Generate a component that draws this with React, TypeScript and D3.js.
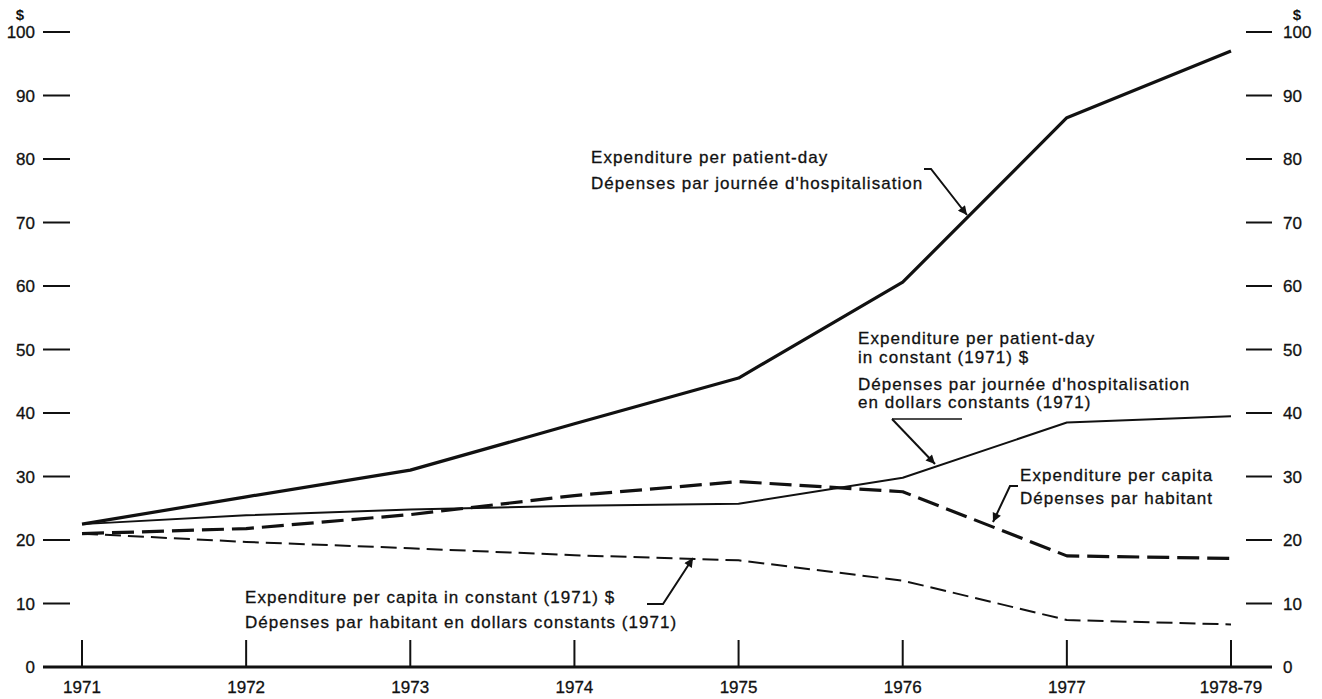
import * as React from "react"
import * as d3 from "d3"

// categories on the x axis
const years = ["1971", "1972", "1973", "1974", "1975", "1976", "1977", "1978-79"]
const yTicks = [0, 10, 20, 30, 40, 50, 60, 70, 80, 90, 100]

// series values ($)
const perPatientDay = [22.5, 26.8, 31.0, 38.3, 45.5, 60.6, 86.5, 97.0]
const perPatientDayConst = [22.5, 23.9, 24.8, 25.4, 25.7, 29.8, 38.5, 39.5]
const perCapita = [21.0, 21.8, 24.0, 27.0, 29.2, 27.6, 17.5, 17.1]
const perCapitaConst = [21.0, 19.7, 18.7, 17.6, 16.8, 13.6, 7.4, 6.7]

const W = 1322
const H = 699
const FONT = "'Liberation Sans', Arial, Helvetica, sans-serif"
const INK = "#111"

type Series = { values: number[]; width: number; dash?: string }

const series: Series[] = [
  { values: perPatientDay, width: 3.2 },
  { values: perPatientDayConst, width: 2 },
  { values: perCapita, width: 3.2, dash: "22,8" },
  { values: perCapitaConst, width: 2, dash: "16,7" },
]

export default function App() {
  const x = d3.scalePoint<string>().domain(years).range([82, 1231])
  const y = d3.scaleLinear().domain([0, 100]).range([667, 32])

  const line = (vals: number[]) =>
    d3
      .line<number>()
      .x((_, i) => x(years[i]) as number)
      .y((d) => y(d))
      .curve(d3.curveLinear)(vals) || ""

  // scanned type looks a bit heavier, so give it a hairline stroke
  const textProps = {
    fontFamily: FONT,
    fontSize: 17,
    fill: INK,
    stroke: INK,
    strokeWidth: 0.3,
    letterSpacing: 1.05,
  }
  const tickText = {
    fontFamily: FONT,
    fontSize: 17,
    fill: INK,
    stroke: INK,
    strokeWidth: 0.3,
  }

  return (
    <svg
      width={W}
      height={H}
      viewBox={`0 0 ${W} ${H}`}
      style={{ position: "absolute", left: 0, top: 0, background: "#fff" }}
    >
      <defs>
        <marker
          id="arrow"
          viewBox="0 0 10 10"
          refX="10"
          refY="5"
          markerWidth="14"
          markerHeight="9"
          markerUnits="userSpaceOnUse"
          orient="auto"
        >
          <path d="M0,0 L10,5 L0,10 Z" fill={INK} />
        </marker>
      </defs>

      {/* y ticks, both sides */}
      {yTicks.map((t) => (
        <g key={t}>
          <line x1={43} x2={70} y1={y(t)} y2={y(t)} stroke={INK} strokeWidth={2} />
          <line x1={1246} x2={1272} y1={y(t)} y2={y(t)} stroke={INK} strokeWidth={2} />
          <text {...tickText} x={35} y={y(t)} dy="0.36em" textAnchor="end">
            {t}
          </text>
          <text {...tickText} x={1283} y={y(t)} dy="0.36em" textAnchor="start">
            {t}
          </text>
        </g>
      ))}
      <text x={20} y={20} textAnchor="middle" fontFamily={FONT} fontSize={15} fontWeight="bold" fill={INK}>$</text>
      <text x={1297} y={20} textAnchor="middle" fontFamily={FONT} fontSize={15} fontWeight="bold" fill={INK}>$</text>

      {/* x axis */}
      <line x1={43} x2={1272} y1={y(0)} y2={y(0)} stroke={INK} strokeWidth={3} />
      {years.map((yr) => (
        <g key={yr}>
          <line x1={x(yr)} x2={x(yr)} y1={640} y2={y(0)} stroke={INK} strokeWidth={2} />
          <text {...tickText} x={x(yr)} y={693} textAnchor="middle">
            {yr}
          </text>
        </g>
      ))}

      {/* series */}
      {series.map((s, i) => (
        <path
          key={i}
          d={line(s.values)}
          fill="none"
          stroke={INK}
          strokeWidth={s.width}
          strokeDasharray={s.dash}
          strokeLinejoin="round"
        />
      ))}

      {/* labels */}
      <text {...textProps} x={591} y={163}>Expenditure per patient-day</text>
      <text {...textProps} x={591} y={189}>Dépenses par journée d'hospitalisation</text>
      <path d="M924,169 L931,169 L967,215" fill="none" stroke={INK} strokeWidth={2} markerEnd="url(#arrow)" />

      <text {...textProps} x={858} y={344}>Expenditure per patient-day</text>
      <text {...textProps} x={858} y={363}>in constant (1971) $</text>
      <text {...textProps} x={858} y={390}>Dépenses par journée d'hospitalisation</text>
      <text {...textProps} x={858} y={408}>en dollars constants (1971)</text>
      <line x1={892} x2={962} y1={419} y2={419} stroke={INK} strokeWidth={1.5} />
      <path d="M892,419 L935,464" fill="none" stroke={INK} strokeWidth={2} markerEnd="url(#arrow)" />

      <text {...textProps} x={1020} y={481}>Expenditure per capita</text>
      <text {...textProps} x={1020} y={504}>Dépenses par habitant</text>
      <path d="M1018,486 L1010,486 L993,522" fill="none" stroke={INK} strokeWidth={2} markerEnd="url(#arrow)" />

      <text {...textProps} x={245} y={603}>Expenditure per capita in constant (1971) $</text>
      <text {...textProps} x={245} y={628}>Dépenses par habitant en dollars constants (1971)</text>
      <path d="M647,604 L663,604 L693,558" fill="none" stroke={INK} strokeWidth={2} markerEnd="url(#arrow)" />
    </svg>
  )
}
